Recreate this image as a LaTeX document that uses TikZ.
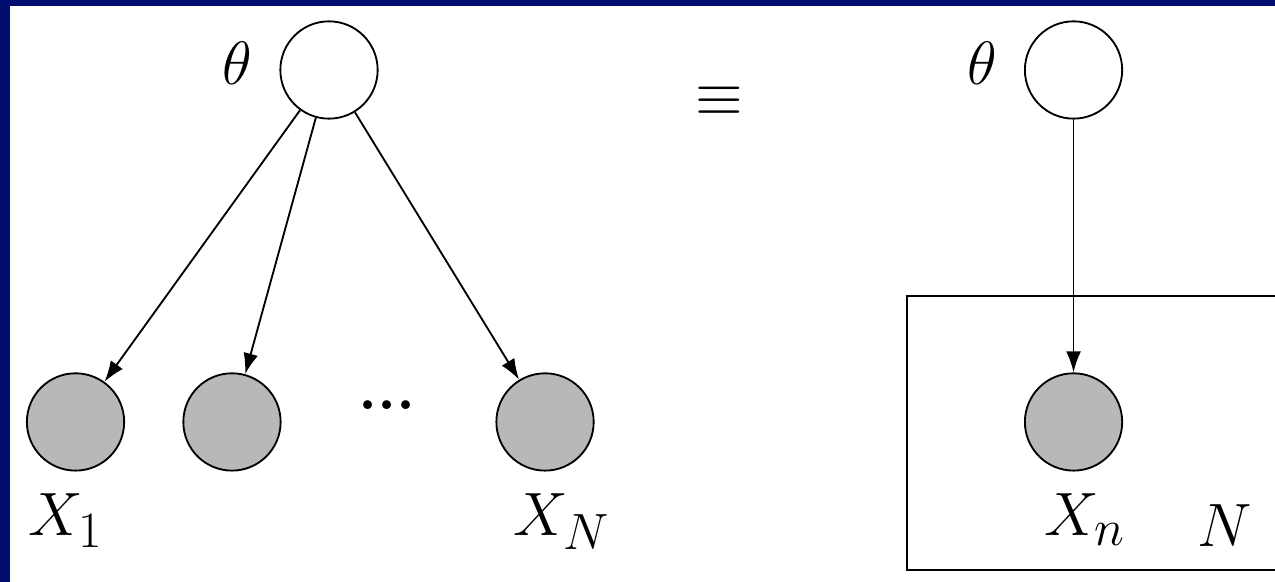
\documentclass[tikz,border=0pt]{standalone}
\usepackage{amsmath,amssymb}
\usepackage{tikz}
\usetikzlibrary{arrows.meta}
\usepackage{xcolor}
\definecolor{slidenavy}{RGB}{0,13,110}
\definecolor{obsgray}{RGB}{184,184,184}

\begin{document}
\begin{tikzpicture}[>={Latex[length=8.5pt,width=6pt]},font=\Huge,line width=0.75pt,
  latent/.style={circle,draw,fill=white,minimum size=1.39cm,inner sep=0pt},
  obs/.style={latent,fill=obsgray}]
\useasboundingbox (0,0) rectangle (18.214,8.314);
\fill[white] (0,0) rectangle (18.214,8.314);
\fill[slidenavy] (0,8.229) rectangle (18.214,8.314);
\fill[slidenavy] (0,0) rectangle (0.143,8.314);
% unrolled model
\node[latent] (th1) at (4.700,7.314) {};
\node at (3.393,7.407) {$\theta$};
\node[obs] (x1) at (1.079,2.286) {};
\node[obs] (x2) at (3.314,2.286) {};
\node[obs] (xN) at (7.786,2.286) {};
\node[anchor=base] (dots) at (5.529,2.457) {\textbf{...}};
\node[anchor=base] (lx1) at (0.943,0.657) {$X_1$};
\node[anchor=base] (lxN) at (8.021,0.657) {$X_N$};
\draw[->] (th1) -- (x1);
\draw[->] (th1) -- (x2);
\draw[->] (th1) -- (xN);
\node (eq) at (10.281,6.861) {$\equiv$};
% plate model
\begin{scope}
\clip (0,0) rectangle (18.214,8.314);
\draw (12.961,0.171) rectangle (18.6,4.086);
\end{scope}
\node[latent] (th2) at (15.336,7.314) {};
\node at (14.036,7.407) {$\theta$};
\node[obs] (xn) at (15.336,2.286) {};
\node[anchor=base] (lxn) at (15.5,0.657) {$X_n$};
\node[anchor=base] (plN) at (17.5,0.500) {$N$};
\draw[->] (th2) -- (xn);
\end{tikzpicture}
\end{document}
